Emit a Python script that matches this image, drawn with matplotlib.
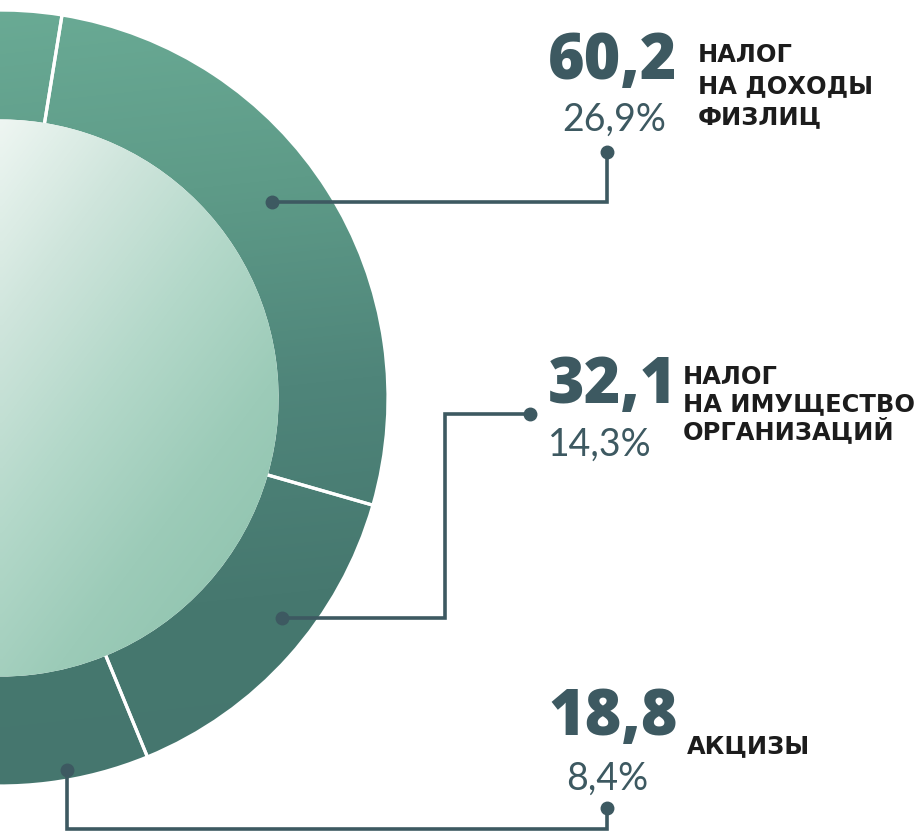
import numpy as np
import matplotlib
matplotlib.use("Agg")
import matplotlib.pyplot as plt
from matplotlib.colors import LinearSegmentedColormap
from matplotlib.patches import Circle

# ---- data ----
categories = ["НАЛОГ\nНА ДОХОДЫ\nФИЗЛИЦ", "НАЛОГ\nНА ИМУЩЕСТВО\nОРГАНИЗАЦИЙ", "АКЦИЗЫ", "Прочие"]
values = [60.2, 32.1, 18.8, 112.7]
value_labels = ["60,2", "32,1", "18,8"]
percent_labels = ["26,9%", "14,3%", "8,4%"]

W, H = 924, 833
fig = plt.figure(figsize=(W / 100, H / 100), dpi=100)
ax = fig.add_axes([0, 0, 1, 1])

def Y(y):
    return H - y

CX, CY = 0, Y(398)
R_OUT, R_IN = 388, 277

wedges, _ = ax.pie(values, radius=R_OUT, center=(CX, CY), startangle=80.8,
                   counterclock=False,
                   wedgeprops=dict(width=R_OUT - R_IN, edgecolor="white",
                                   linewidth=2.3, facecolor="none"))

# ring gradient (vertical, light top -> dark bottom)
ring_cmap = LinearSegmentedColormap.from_list(
    "ring", ["#6aab95", "#5e9b88", "#4f857a", "#46786f", "#45766e"])
ny, nx = 200, 200
yy, xx = np.mgrid[0:ny, 0:nx]
t_ring = yy / (ny - 1)
t_ring = np.clip(t_ring * 1.0 + (xx / (nx - 1)) * 0.12, 0, 1)
for w in wedges:
    im = ax.imshow(t_ring, cmap=ring_cmap, extent=[0, W, 0, H], origin="upper",
                   interpolation="bilinear", zorder=1, vmin=0, vmax=1)
    im.set_clip_path(w)
    w.set_zorder(2)

# inner disc gradient
inner_cmap = LinearSegmentedColormap.from_list(
    "inner", ["#eef6f2", "#cfe5dc", "#b3d8c9", "#9ccbb8", "#8fc3ae"])
px = xx / (nx - 1) * W
py = yy / (ny - 1) * H
t_in = np.clip((0.8 * px + 0.6 * py - 70) / 500.0, 0, 1)
disc = Circle((CX, CY), R_IN + 1.6, facecolor="none", edgecolor="none", zorder=3)
ax.add_patch(disc)
im2 = ax.imshow(t_in, cmap=inner_cmap, extent=[0, W, 0, H], origin="upper",
                interpolation="bilinear", zorder=3, vmin=0, vmax=1)
im2.set_clip_path(disc)

# leader lines (layout)
LC = "#3d5961"
leaders = [
    [(272, 202), (607, 202), (607, 152)],
    [(282, 618), (445, 618), (445, 414), (530, 414)],
    [(67, 770), (67, 829), (607, 829), (607, 808)],
]
for path in leaders:
    xs = [p[0] for p in path]
    ys = [Y(p[1]) for p in path]
    ax.plot(xs, ys, color=LC, lw=2.6, solid_joinstyle="miter", zorder=5)
    ax.plot([xs[0], xs[-1]], [ys[0], ys[-1]], "o", color=LC, ms=9, zorder=6)

# text blocks (layout)
num_font = dict(family=["Open Sans", "DejaVu Sans"], weight="heavy", size=45, color=LC)
pct_font = dict(family=["Lato", "DejaVu Sans"], weight="normal", size=27, color="#3d5961")
lab_font = dict(family=["DejaVu Sans"], weight="bold", size=17.4, color="#1c1c1c")

num_pos = [(548, 79), (548, 403), (548, 735)]
pct_pos = [(614, 131), (600, 456), (607, 790)]
lab_pos = [(698, 62, 31), (683, 384, 27.5), (687, 753, 0)]

for i in range(3):
    ax.text(num_pos[i][0], Y(num_pos[i][1]), value_labels[i], ha="left", va="baseline", **num_font)
    ax.text(pct_pos[i][0], Y(pct_pos[i][1]), percent_labels[i], ha="center", va="baseline", **pct_font)
    x0, yb, sp = lab_pos[i]
    for j, line in enumerate(categories[i].split("\n")):
        ax.text(x0, Y(yb + j * sp), line, ha="left", va="baseline", **lab_font)

ax.set_xlim(0, W)
ax.set_ylim(0, H)
ax.set_aspect("auto")
ax.axis("off")
fig.savefig("out.png", dpi=100, facecolor="white")
